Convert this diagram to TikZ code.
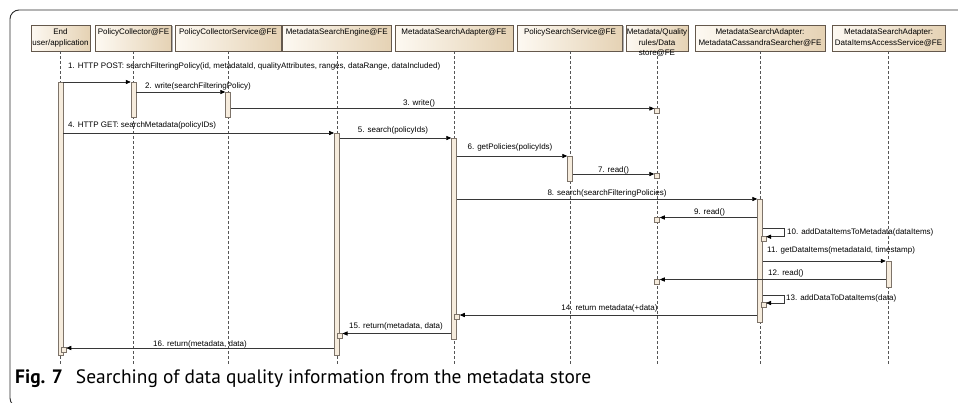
\documentclass[tikz,border=0pt]{standalone}
\usepackage{fontspec}
\setmainfont{Liberation Sans}
\newfontfamily\capfont{PT Sans}
\usetikzlibrary{arrows.meta,shadows}

\definecolor{hdrlight}{RGB}{253,249,242}
\definecolor{hdrdark}{RGB}{229,210,180}
\definecolor{hdrline}{RGB}{100,88,76}
\definecolor{barfill}{RGB}{246,236,221}
\definecolor{barline}{RGB}{125,115,105}
\definecolor{msgline}{RGB}{55,55,55}
\definecolor{lifecol}{RGB}{85,85,85}
\definecolor{framecol}{RGB}{45,45,45}

\begin{document}
\begin{tikzpicture}[x=1pt,y=-1pt,
  hdrbox/.style={draw=hdrline, line width=0.6pt, left color=hdrlight, right color=hdrdark,
    inner sep=0pt, minimum height=26pt,
    drop shadow={shadow xshift=1.3pt, shadow yshift=-1.3pt, fill=black!45, opacity=0.7}},
  hdrtext/.style={inner sep=0pt, align=center, anchor=north, font=\fontsize{8}{10.5}\selectfont},
  lifeline/.style={draw=lifecol, line width=0.5pt, dash pattern=on 3pt off 2pt},
  actbar/.style={draw=barline, fill=barfill, line width=0.5pt, inner sep=0pt, minimum width=5pt},
  sq/.style={draw=barline, fill=barfill, line width=0.5pt, inner sep=0pt, minimum size=5pt},
  msg/.style={draw=msgline, line width=0.6pt, -{Triangle[length=5pt,width=4.2pt,color=black]}},
  lbl/.style={inner sep=0pt, font=\fontsize{8}{9.5}\selectfont, anchor=base},
  lblw/.style={lbl, anchor=base west}]

\useasboundingbox (0,0) rectangle (958,402);
\fill[white] (0,0) rectangle (958,402);

% figure frame, open at the right and bottom edges
\begin{scope}
  \clip (0,0) rectangle (958,402);
  \draw[framecol, line width=0.9pt, rounded corners=9pt] (10,10) rectangle (990,407);
\end{scope}

% end point of all lifelines
\coordinate (lifeend) at (0,365);

% participants with their lifelines
\foreach \n/\l/\r/\t in {
  h1/31/90/{End\\user/application},
  h2/95.5/171.5/{PolicyCollector@FE},
  h3/175/281/{PolicyCollectorService@FE},
  h4/282.5/391/{MetadataSearchEngine@FE},
  h5/395/513/{MetadataSearchAdapter@FE},
  h6/517.5/622.5/{PolicySearchService@FE},
  h7/626/688/{Metadata/Quality\\rules/Data\\store@FE},
  h8/695/825/{MetadataSearchAdapter:\\MetadataCassandraSearcher@FE},
  h9/832/945/{MetadataSearchAdapter:\\DataItemsAccessService@FE}}{
  \node[hdrbox, minimum width={(\r-\l)*1pt}] (\n) at ({(\l+\r)/2},38) {};
  \draw[lifeline] (\n.south) -- (\n.south |- lifeend);
  \node[hdrtext] (\n t) at ({(\l+\r)/2},28.6) {\t};
}

% activation bars
\node[actbar, minimum height=273pt] (b1) at (60.5,218.5) {};
\node[actbar, minimum height=35pt]  (b2) at (133.5,99.5) {};
\node[actbar, minimum height=25pt]  (b3) at (228,104.5) {};
\node[actbar, minimum height=222pt] (b4) at (336.75,244) {};
\node[actbar, minimum height=201pt] (b5) at (454,238.5) {};
\node[actbar, minimum height=25pt]  (b6) at (570,168.5) {};
\node[actbar, minimum height=123pt] (b8) at (760,260.5) {};
\node[actbar, minimum height=26pt]  (b9) at (888.5,274) {};

% short activations hit by messages
\node[sq] (s3)  at (657,110.5) {};
\node[sq] (s7)  at (657,176) {};
\node[sq] (s9)  at (657,219.5) {};
\node[sq] (s10) at (763.3,238.7) {};
\node[sq] (s12) at (657,281.5) {};
\node[sq] (s13) at (763.3,305) {};
\node[sq] (s14) at (457,317) {};
\node[sq] (s15) at (339.75,335.5) {};
\node[sq] (s16) at (63.5,350) {};

% message rows
\coordinate (m1) at (0,82);
\coordinate (m2) at (0,92);
\coordinate (m3) at (0,108.5);
\coordinate (m4) at (0,133);
\coordinate (m5) at (0,138);
\coordinate (m6) at (0,156);
\coordinate (m7) at (0,174);
\coordinate (m8) at (0,199);
\coordinate (m9) at (0,217.5);
\coordinate (m10) at (0,228.5);
\coordinate (m11) at (0,261);
\coordinate (m12) at (0,279.5);
\coordinate (m13) at (0,295);
\coordinate (m14) at (0,315);
\coordinate (m15) at (0,333.5);
\coordinate (m16) at (0,348);

% messages
\draw[msg] (b1.east |- m1) -- (b2.west |- m1);
\draw[msg] (b2.east |- m2) -- (b3.west |- m2);
\draw[msg] (b3.east |- m3) -- (s3.west |- m3);
\draw[msg] (b1.east |- m4) -- (b4.west |- m4);
\draw[msg] (b4.east |- m5) -- (b5.west |- m5);
\draw[msg] (b5.east |- m6) -- (b6.west |- m6);
\draw[msg] (b6.east |- m7) -- (s7.west |- m7);
\draw[msg] (b5.east |- m8) -- (b8.west |- m8);
\draw[msg] (b8.west |- m9) -- (s9.east |- m9);
\draw[msg] (b8.east |- m10) -- ++(21.7,0) |- ([yshift=2pt]s10.east);
\draw[msg] (b8.east |- m11) -- (b9.west |- m11);
\draw[msg] (b9.west |- m12) -- (s12.east |- m12);
\draw[msg] (b8.east |- m13) -- ++(21.7,0) |- ([yshift=2pt]s13.east);
\draw[msg] (b8.west |- m14) -- (s14.east |- m14);
\draw[msg] (b5.west |- m15) -- (s15.east |- m15);
\draw[msg] (b4.west |- m16) -- (s16.east |- m16);

% message labels
\node[lblw] (l1) at (68,68.5) {1. HTTP POST: searchFilteringPolicy(id, metadataId, qualityAttributes, ranges, dataRange, dataIncluded)};
\node[lbl] (l2) at (198,88) {2. write(searchFilteringPolicy)};
\node[lbl] (l3) at (419,105) {3. write()};
\node[lblw] (l4) at (68,127) {4. HTTP GET: searchMetadata(policyIDs)};
\node[lbl] (l5) at (393,132) {5. search(policyIds)};
\node[lbl] (l6) at (510,149) {6. getPolicies(policyIds)};
\node[lbl] (l7) at (613.5,172) {7. read()};
\node[lbl] (l8) at (607,195.7) {8. search(searchFilteringPolicies)};
\node[lbl] (l9) at (709.5,214.7) {9. read()};
\node[lblw] (l10) at (787,234.7) {10. addDataItemsToMetadata(dataItems)};
\node[lblw] (l11) at (767,252.3) {11. getDataItems(metadataId, timestamp)};
\node[lblw] (l12) at (768,275) {12. read()};
\node[lblw] (l13) at (786,300.7) {13. addDataToDataItems(data)};
\node[lbl] (l14) at (609.5,310.7) {14. return metadata(+data)};
\node[lbl] (l15) at (396,328) {15. return(metadata, data)};
\node[lbl] (l16) at (200,346) {16. return(metadata, data)};

% caption
\node[anchor=base west, inner sep=0pt, font=\capfont\fontsize{19.4}{21}\selectfont] (cap) at (15,383.5)
  {\textbf{Fig. 7}\hspace{13pt}Searching of data quality information from the metadata store};
\end{tikzpicture}
\end{document}
